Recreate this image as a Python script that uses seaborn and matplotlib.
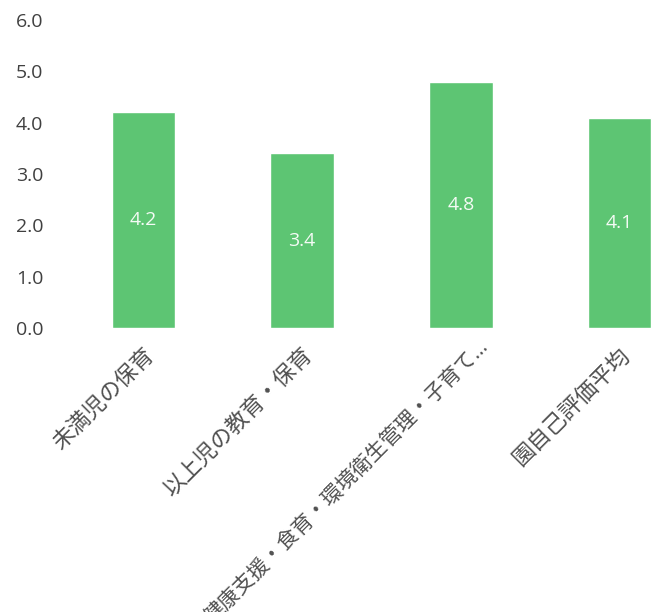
import matplotlib
matplotlib.use("Agg")
import matplotlib.pyplot as plt
import matplotlib.transforms as mtransforms
import seaborn as sns
import pandas as pd

# Evaluation categories and their average scores
categories = ["未満児の保育", "以上児の教育・保育", "健康支援・食育・環境衛生管理・子育て…", "園自己評価平均"]
scores = [4.2, 3.4, 4.8, 4.1]
y_ticks = [0.0, 1.0, 2.0, 3.0, 4.0, 5.0, 6.0]

sns.set_theme(style="white")
plt.rcParams["font.family"] = ["Open Sans", "Noto Sans CJK JP", "DejaVu Sans"]

df = pd.DataFrame({"category": categories, "score": scores})

fig = plt.figure(figsize=(6.63, 6.12), dpi=100)
ax = fig.add_axes([64 / 663, (612 - 328) / 612, 635 / 663, 308 / 612])

sns.barplot(data=df, x="category", y="score", color="#5dc573", saturation=1,
            width=0.4, ax=ax)

for patch, val in zip(ax.patches, scores):
    ax.text(patch.get_x() + patch.get_width() / 2, val / 2, f"{val:.1f}",
            ha="center", va="center", color="#f4fbf5", fontsize=14)

ax.set_ylim(0, 6)
ax.set_xlim(-0.5, 3.5)
ax.set_yticks(y_ticks)
ax.set_yticklabels([f"{t:.1f}" for t in y_ticks], fontsize=14, color="#404040")
ax.set_xlabel("")
ax.set_ylabel("")
ax.tick_params(axis="both", length=0)
ax.tick_params(axis="y", pad=15)
ax.tick_params(axis="x", pad=12)
for i, lab in enumerate(ax.get_xticklabels()):
    lab.set_rotation(45)
    lab.set_ha("right")
    lab.set_va("top")
    lab.set_rotation_mode("anchor")
    lab.set_fontsize(16)
    lab.set_color("#505050")
    if len(lab.get_text()) > 12:
        # the long, truncated label sits a little further up and right
        lab.set_fontsize(15)
        shift = mtransforms.ScaledTranslation(17 / 100, 9 / 100, fig.dpi_scale_trans)
        lab.set_transform(lab.get_transform() + shift)
sns.despine(ax=ax, left=True, bottom=True)

fig.savefig("out.png", dpi=100)
